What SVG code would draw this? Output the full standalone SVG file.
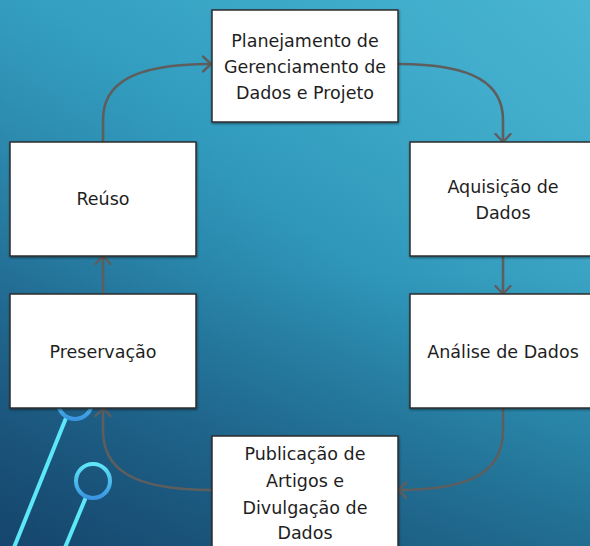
<svg xmlns="http://www.w3.org/2000/svg" width="590" height="546" viewBox="0 0 590 546">
  <defs>
    <linearGradient id="bg" gradientUnits="userSpaceOnUse" x1="560" y1="-20" x2="60" y2="580">
      <stop offset="0" stop-color="#4db7d3"/>
      <stop offset="0.45" stop-color="#2e96b9"/>
      <stop offset="0.75" stop-color="#236f96"/>
      <stop offset="1" stop-color="#1a5079"/>
    </linearGradient>
    <linearGradient id="bgv" x1="0" y1="0" x2="0" y2="1">
      <stop offset="0" stop-color="#3fb0d0" stop-opacity="0.35"/>
      <stop offset="0.5" stop-color="#3fb0d0" stop-opacity="0"/>
      <stop offset="0.5" stop-color="#0e3558" stop-opacity="0"/>
      <stop offset="1" stop-color="#0e3558" stop-opacity="0.35"/>
    </linearGradient>
    <linearGradient id="ring" x1="0" y1="0" x2="0" y2="1">
      <stop offset="0" stop-color="#5fe6f8"/>
      <stop offset="1" stop-color="#3a95e0"/>
    </linearGradient>
    <filter id="sh" x="-5%" y="-5%" width="110%" height="115%">
      <feDropShadow dx="0.5" dy="1.2" stdDeviation="1" flood-color="#000" flood-opacity="0.45"/>
    </filter>
    <marker id="arr" viewBox="0 0 10 18" refX="9" refY="9" markerWidth="10" markerHeight="18" markerUnits="userSpaceOnUse" orient="auto">
      <path d="M1,1.5 L9,9 L1,16.5" fill="none" stroke="#5e5e5e" stroke-width="2.4" stroke-linecap="round" stroke-linejoin="round"/>
    </marker>
    <style>
      .box { fill: #ffffff; stroke: #2e2e2e; stroke-width: 1.5; filter: url(#sh); }
      .lbl { font-family: "DejaVu Sans", "Liberation Sans", sans-serif; font-size: 17.5px; fill: #1e1e1e; text-anchor: middle; }
      .conn { fill: none; stroke: #5e5e5e; stroke-width: 2.6; marker-end: url(#arr); }
      .deco { fill: none; stroke: url(#ring); stroke-width: 4; }
      .dline { stroke: #5ce8f8; stroke-width: 4; }
    </style>
  </defs>

  <rect x="0" y="0" width="590" height="546" fill="url(#bg)"/>
  <rect x="0" y="0" width="590" height="546" fill="url(#bgv)"/>

  <g id="decoration">
    <line class="dline" x1="66" y1="418" x2="13" y2="550"/>
    <circle class="deco" cx="75" cy="402" r="17"/>
    <line class="dline" x1="86" y1="497" x2="64" y2="550"/>
    <circle class="deco" cx="93" cy="481" r="17"/>
  </g>

  <g id="connectors">
    <path class="conn" d="M103,142 L103,120 C103,85 130,64 211,64"/>
    <path class="conn" d="M398,64 C476,64 503,85 503,120 L503,142"/>
    <path class="conn" d="M503,256 L503,294"/>
    <path class="conn" d="M503,408 L503,430 C503,468 478,490 398,490"/>
    <path class="conn" d="M212,490 C130,490 103,468 103,430 L103,408"/>
    <path class="conn" d="M103,294 L103,256"/>
  </g>

  <g id="planejamento">
    <rect class="box" x="212" y="10" width="186" height="112"/>
    <text class="lbl" x="305" y="47">Planejamento de</text>
    <text class="lbl" x="305" y="73">Gerenciamento de</text>
    <text class="lbl" x="305" y="99">Dados e Projeto</text>
  </g>

  <g id="reuso">
    <rect class="box" x="10" y="142" width="186" height="114"/>
    <text class="lbl" x="103" y="205">Reúso</text>
  </g>

  <g id="aquisicao">
    <rect class="box" x="410" y="142" width="186" height="114"/>
    <text class="lbl" x="503" y="193">Aquisição de</text>
    <text class="lbl" x="503" y="219">Dados</text>
  </g>

  <g id="preservacao">
    <rect class="box" x="10" y="294" width="186" height="114"/>
    <text class="lbl" x="103" y="358">Preservação</text>
  </g>

  <g id="analise">
    <rect class="box" x="410" y="294" width="186" height="114"/>
    <text class="lbl" x="503" y="358">Análise de Dados</text>
  </g>

  <g id="publicacao">
    <rect class="box" x="212" y="436" width="186" height="130"/>
    <text class="lbl" x="305" y="460">Publicação de</text>
    <text class="lbl" x="305" y="487">Artigos e</text>
    <text class="lbl" x="305" y="514">Divulgação de</text>
    <text class="lbl" x="305" y="539">Dados</text>
  </g>
</svg>
